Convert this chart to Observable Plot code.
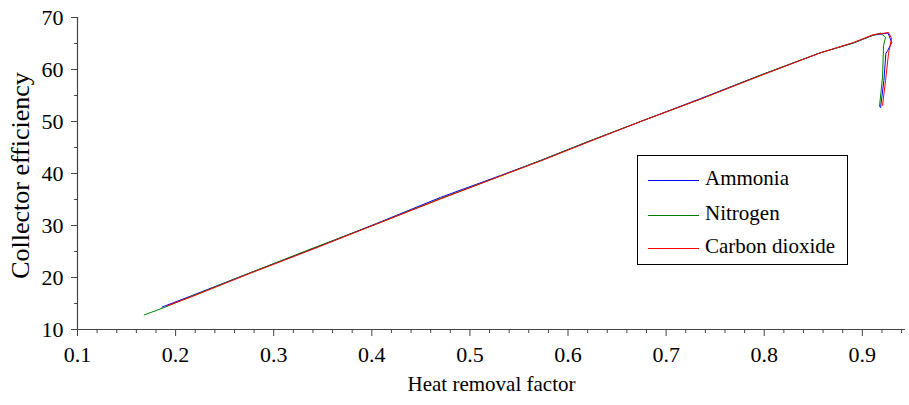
<!DOCTYPE html>
<html>
<head>
<meta charset="utf-8">
<script src="https://cdn.jsdelivr.net/npm/d3@7"></script>
<script src="https://cdn.jsdelivr.net/npm/@observablehq/plot@0.6"></script>
<style>
  html, body { margin: 0; padding: 0; background: #fff; }
  #wrap { position: relative; width: 909px; height: 405px; font-family: "Liberation Serif", "Times New Roman", serif; }
  #legend { position: absolute; left: 637px; top: 155px; width: 211px; height: 110px; border: 1px solid #000; box-sizing: border-box; font-size: 21px; color: #000; }
  #legend .row { position: absolute; left: 10px; height: 24px; line-height: 24px; white-space: nowrap; }
  #legend .sw { display: inline-block; width: 51px; height: 0; border-top: 1px solid; vertical-align: middle; margin-right: 6px; }
</style>
</head>
<body>
<div id="wrap"></div>
<script>
// Series
const seriesNames = ["Ammonia", "Nitrogen", "Carbon dioxide"];
const seriesColors = ["#0000ff", "#008000", "#ff0000"];

// Heat removal factor (x) and collector efficiency (y) for each gas
const ammoniaX = [0.186, 0.215, 0.276, 0.338, 0.405, 0.470, 0.531, 0.572, 0.620, 0.674, 0.735, 0.796, 0.857, 0.891, 0.911, 0.926, 0.927, 0.930, 0.926, 0.924, 0.922, 0.9186];
const ammoniaY = [14.3, 16.4, 20.9, 25.4, 30.4, 35.4, 39.6, 42.5, 46.1, 50.0, 54.4, 58.9, 63.2, 65.1, 66.6, 67.0, 66.6, 65.2, 63.7, 63.1, 57.9, 52.7];

const nitrogenX = [0.168, 0.188, 0.215, 0.276, 0.338, 0.405, 0.470, 0.531, 0.572, 0.620, 0.674, 0.735, 0.796, 0.857, 0.891, 0.911, 0.9186, 0.9237, 0.9216, 0.9206, 0.9175];
const nitrogenY = [12.8, 14.2, 16.3, 20.9, 25.5, 30.3, 35.2, 39.5, 42.5, 46.1, 50.0, 54.3, 58.9, 63.2, 65.1, 66.6, 67.0, 66.2, 64.6, 58.5, 52.9];

const co2X = [0.192, 0.215, 0.276, 0.338, 0.405, 0.470, 0.531, 0.572, 0.620, 0.674, 0.735, 0.796, 0.857, 0.891, 0.911, 0.9267, 0.9298, 0.9267, 0.9237, 0.9206];
const co2Y = [14.6, 16.2, 20.8, 25.3, 30.3, 35.1, 39.5, 42.4, 46.0, 50.0, 54.3, 58.8, 63.2, 65.2, 66.7, 67.1, 66.0, 63.1, 57.9, 53.1];

// Axis ticks
const xMajorTicks = [0.1, 0.2, 0.3, 0.4, 0.5, 0.6, 0.7, 0.8, 0.9];
const xMinorTicks = [0.12,0.14,0.16,0.18,0.22,0.24,0.26,0.28,0.32,0.34,0.36,0.38,0.42,0.44,0.46,0.48,0.52,0.54,0.56,0.58,0.62,0.64,0.66,0.68,0.72,0.74,0.76,0.78,0.82,0.84,0.86,0.88,0.92,0.94];
const yMajorTicks = [10, 20, 30, 40, 50, 60, 70];
const yMinorTicks = [15, 25, 35, 45, 55, 65];

const xLabel = "Heat removal factor";
const yLabel = "Collector efficiency";

const rows = [];
[[ammoniaX, ammoniaY], [nitrogenX, nitrogenY], [co2X, co2Y]].forEach(([xs, ys], i) => {
  xs.forEach((x, j) => rows.push({series: seriesNames[i], x, y: ys[j]}));
});

const axisColor = "#444";
const chart = Plot.plot({
  width: 909,
  height: 405,
  marginLeft: 77,
  marginRight: 4,
  marginTop: 17,
  marginBottom: 76,
  style: {fontFamily: "'Liberation Serif', 'Times New Roman', serif", fontSize: "22px", color: "#000", background: "#fff"},
  x: {domain: [0.1, 0.944]},
  y: {domain: [10, 70]},
  color: {domain: seriesNames, range: seriesColors},
  marks: [
    Plot.axisX(xMajorTicks, {tickSize: 7, tickPadding: 10, stroke: axisColor, tickFormat: d => d.toFixed(1), label: null, fontSize: 22, fill: "#000"}),
    Plot.axisX(xMinorTicks, {tickSize: 4, text: null, stroke: axisColor, label: null}),
    Plot.axisY(yMajorTicks, {tickSize: 6, tickPadding: 8, stroke: axisColor, label: null, fontSize: 22, fill: "#000"}),
    Plot.axisY(yMinorTicks, {tickSize: 3, text: null, stroke: axisColor, label: null}),
    Plot.ruleY([10], {stroke: axisColor, strokeWidth: 1.2}),
    Plot.ruleX([0.1], {stroke: axisColor, strokeWidth: 1.2}),
    Plot.line(rows, {x: "x", y: "y", z: "series", stroke: "series", strokeWidth: 1}),
    Plot.text([xLabel], {frameAnchor: "bottom", dy: 61, fontSize: 21, fill: "#000"}),
    Plot.text([yLabel], {frameAnchor: "left", textAnchor: "middle", dx: -57, dy: 2, rotate: -90, fontSize: 26, fill: "#000"})
  ]
});

const wrap = document.getElementById("wrap");
wrap.appendChild(chart);

// Legend built from the series arrays
const legend = document.createElement("div");
legend.id = "legend";
const rowTops = [10, 45, 78];
seriesNames.forEach((name, i) => {
  const r = document.createElement("div");
  r.className = "row";
  r.style.top = rowTops[i] + "px";
  const sw = document.createElement("span");
  sw.className = "sw";
  sw.style.borderTopColor = seriesColors[i];
  r.appendChild(sw);
  r.appendChild(document.createTextNode(name));
  legend.appendChild(r);
});
wrap.appendChild(legend);
</script>
</body>
</html>
